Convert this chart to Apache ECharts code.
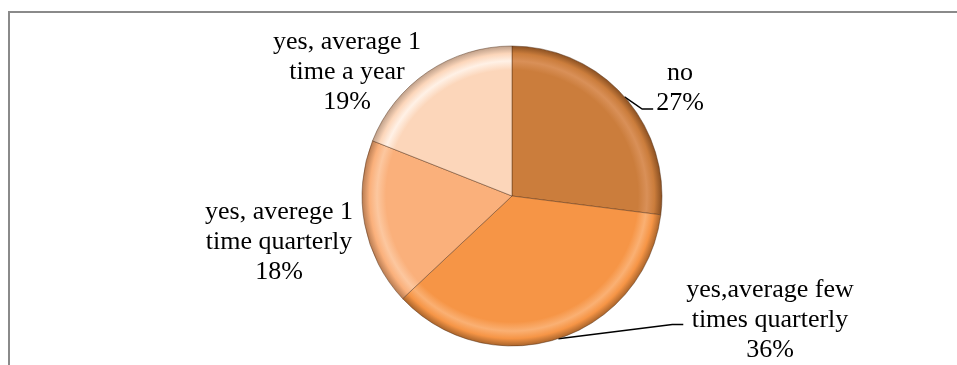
<!DOCTYPE html>
<html>
<head>
<meta charset="utf-8">
<script src="https://cdn.jsdelivr.net/npm/echarts@6/dist/echarts.min.js"></script>
<style>
html,body{margin:0;padding:0;background:#fff;}
#chart{width:957px;height:365px;}
</style>
</head>
<body>
<div id="chart"></div>
<script>
// Data
const categories = ['no', 'yes,average few\ntimes quarterly', 'yes, averege 1\ntime quarterly', 'yes, average 1\ntime a year'];
const values = [27, 36, 18, 19];
const baseColors = ['#CB7D3C', '#F69546', '#FAB07B', '#FCD6BA'];
const lightColors = ['#D99058', '#FAB073', '#FCC79F', '#FFF1E6'];
const darkColors = ['#8A5022', '#A9642B', '#B87C52', '#BFA08A'];

// Layout
const CX = 512, CY = 196, R = 150;
const labelPos = [[680, 88], [770, 320], [279, 242], [347, 72]];
const showLine = [true, true, false, false];

function grad(i) {
  return {
    type: 'radial', x: CX, y: CY, r: R, global: true,
    colorStops: [
      {offset: 0, color: baseColors[i]},
      {offset: 0.84, color: baseColors[i]},
      {offset: 0.9, color: lightColors[i]},
      {offset: 0.95, color: baseColors[i]},
      {offset: 1, color: darkColors[i]}
    ]
  };
}

const chart = echarts.init(document.getElementById('chart'), null, {renderer: 'canvas'});
const option = {
  backgroundColor: '#fff',
  animation: false,
  graphic: [{
    type: 'polyline',
    shape: {points: [[9, 400], [9, 12], [960, 12]]},
    style: {stroke: '#8a8a8a', lineWidth: 2, fill: null}
  }],
  series: [{
    type: 'pie',
    center: [CX, CY],
    radius: [0, R],
    startAngle: 90,
    clockwise: true,
    avoidLabelOverlap: false,
    itemStyle: {borderColor: 'rgba(80,45,20,0.45)', borderWidth: 1},
    label: {
      show: true,
      position: 'outside',
      formatter: function (p) { return p.name + '\n' + p.value + '%'; },
      fontFamily: '"Liberation Serif", "Times New Roman", serif',
      fontSize: 26,
      lineHeight: 30,
      color: '#000',
      align: 'center'
    },
    labelLine: {show: true, lineStyle: {color: '#000', width: 1.5}},
    labelLayout: function (params) {
      const i = params.dataIndex;
      const x = labelPos[i][0], y = labelPos[i][1];
      const w = params.labelRect.width, h = params.labelRect.height;
      const rx = x - w / 2, ry = y - h / 2;
      const res = {x: x, y: y, align: 'center', verticalAlign: 'middle'};
      if (showLine[i] && params.labelLinePoints) {
        const p0 = params.labelLinePoints[0];
        let ly;
        if (i === 0) ly = ry + h * 0.85;
        else ly = ry + h * 0.55;
        res.labelLinePoints = [[p0[0], p0[1]], [rx - 14, ly], [rx - 3, ly]];
      }
      return res;
    },
    data: categories.map(function (c, i) {
      return {
        name: c,
        value: values[i],
        itemStyle: {color: grad(i)},
        labelLine: {show: showLine[i]}
      };
    })
  }]
};
chart.setOption(option);
</script>
</body>
</html>
